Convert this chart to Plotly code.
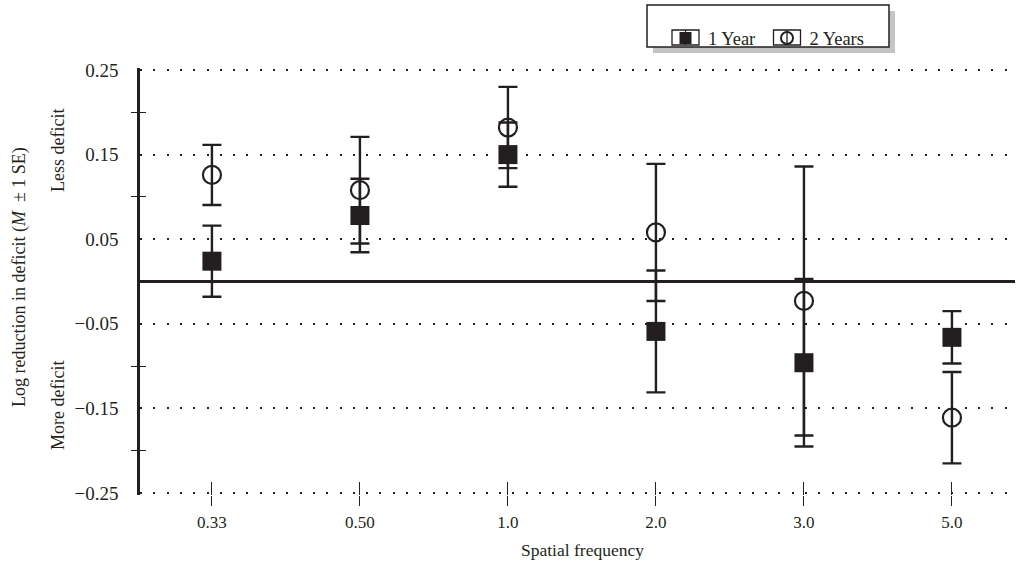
import plotly.graph_objects as go

categories = ["0.33", "0.50", "1.0", "2.0", "3.0", "5.0"]
year1 = [0.024, 0.078, 0.150, -0.059, -0.096, -0.066]
year1_se = [0.042, 0.0435, 0.038, 0.072, 0.099, 0.031]
year2 = [0.126, 0.108, 0.182, 0.058, -0.023, -0.161]
year2_se = [0.0355, 0.063, 0.048, 0.081, 0.159, 0.054]
ytick_vals = [0.25, 0.15, 0.05, -0.05, -0.15, -0.25]
ytick_text = ["0.25", "0.15", "0.05", "\u22120.05", "\u22120.15", "\u22120.25"]
yminor_vals = [0.2, 0.1, -0.1, -0.2]

INK = "#231f20"
FONT = "Liberation Serif, Times New Roman, serif"

W, H = 1018, 563
L, R, T, B = 140, 3, 68, 68
pw, ph = W - L - R, H - T - B
# pixel -> paper helpers (margins are fixed, autoexpand off)
def px_x(p):
    return (p - L) / pw
def px_y(p):
    return (H - B - p) / ph

pad = 2 * 0.5 / (ph - 4)          # 2px of headroom so the edge gridlines are drawn
yr = [-0.25 - pad, 0.25 + pad]
xr = [-0.486, 5.426]

fig = go.Figure()
fig.add_trace(go.Scatter(
    x=categories, y=year1, name="1 Year", mode="markers",
    marker=dict(symbol="square", size=19, color=INK, line=dict(width=0)),
    error_y=dict(type="data", array=year1_se, visible=True, color=INK, thickness=2.4, width=9.5),
))
fig.add_trace(go.Scatter(
    x=categories, y=year2, name="2 Years", mode="markers",
    marker=dict(symbol="circle-open", size=18, color=INK, line=dict(width=2.2, color=INK)),
    error_y=dict(type="data", array=year2_se, visible=True, color=INK, thickness=2.4, width=9.5),
))
# invisible trace hosting the overlay axes (inner halves of the crossing ticks)
fig.add_trace(go.Scatter(x=categories, y=year1, xaxis="x2", yaxis="y2", mode="markers",
                         marker=dict(opacity=0), showlegend=False, hoverinfo="skip"))

fig.update_layout(
    width=W, height=H,
    margin=dict(l=L, r=R, t=T, b=B, autoexpand=False),
    paper_bgcolor="white", plot_bgcolor="white",
    font=dict(family=FONT, size=18, color=INK),
    showlegend=True,
    legend=dict(
        orientation="h", x=px_x(663), y=px_y(19.5),
        xanchor="left", yanchor="top",
        bgcolor="rgba(0,0,0,0)", borderwidth=0,
        font=dict(family=FONT, size=18.5, color=INK),
        itemwidth=35, itemsizing="constant",
        entrywidth=51.5, entrywidthmode="pixels",
    ),
    xaxis=dict(
        type="category", range=xr, showgrid=False, zeroline=False, showline=False,
        ticks="outside", ticklen=10, tickwidth=1.3, tickcolor=INK,
        tickfont=dict(family=FONT, size=17, color=INK), ticklabelstandoff=2,
    ),
    xaxis2=dict(
        type="category", range=xr, overlaying="x", anchor="y2", side="bottom",
        showgrid=False, zeroline=False, showline=False, showticklabels=False,
        ticks="inside", ticklen=13, tickwidth=1.3, tickcolor=INK,
    ),
    yaxis=dict(
        range=yr, tickvals=ytick_vals, ticktext=ytick_text,
        showgrid=True, gridcolor=INK, gridwidth=2, griddash="2px,11.3px",
        zeroline=True, zerolinecolor=INK, zerolinewidth=2.5,
        showline=True, linecolor=INK, linewidth=2.5,
        ticks="", ticklabelstandoff=15,
        minor=dict(tickvals=yminor_vals, ticks="outside", ticklen=6, tickwidth=1.3, tickcolor=INK, showgrid=False),
        tickfont=dict(family=FONT, size=19, color=INK),
    ),
    yaxis2=dict(
        range=yr, overlaying="y", anchor="x2", side="left",
        showgrid=False, zeroline=False, showline=False, showticklabels=False,
        tickvals=yminor_vals, ticks="inside", ticklen=6, tickwidth=1.3, tickcolor=INK,
    ),
)

fig.add_annotation(text="Log reduction in deficit (<i>M</i>  \u00b1 1 SE)", textangle=-90,
                   xref="paper", yref="paper", x=px_x(19), y=px_y(277),
                   showarrow=False, xanchor="center", yanchor="middle",
                   font=dict(family=FONT, size=18, color=INK))
fig.add_annotation(text="Less deficit", textangle=-90,
                   xref="paper", yref="paper", x=px_x(58), y=px_y(151),
                   showarrow=False, xanchor="center", yanchor="middle",
                   font=dict(family=FONT, size=18, color=INK))
fig.add_annotation(text="More deficit", textangle=-90,
                   xref="paper", yref="paper", x=px_x(58), y=px_y(406),
                   showarrow=False, xanchor="center", yanchor="middle",
                   font=dict(family=FONT, size=18, color=INK))
fig.add_annotation(text="Spatial frequency",
                   xref="paper", yref="paper", x=px_x(582), y=px_y(550),
                   showarrow=False, xanchor="center", yanchor="middle",
                   font=dict(family=FONT, size=17.5, color=INK))

# legend frame: drop shadow, white box, and the small boxes round each key
def rect(x0, y0, x1, y1, **kw):
    fig.add_shape(type="rect", xref="paper", yref="paper",
                  x0=px_x(x0), x1=px_x(x1), y0=px_y(y1), y1=px_y(y0), layer="above", **kw)

rect(653, 11, 895, 53, fillcolor="#c4c4c4", line=dict(width=0))
rect(647, 5, 889, 47, fillcolor="white", line=dict(width=1.5, color=INK))
for cx in (685.5, 787):
    rect(cx - 13.5, 30, cx + 13.5, 45, fillcolor="rgba(0,0,0,0)", line=dict(width=1.3, color=INK))
    fig.add_shape(type="line", xref="paper", yref="paper", x0=px_x(cx), x1=px_x(cx),
                  y0=px_y(45), y1=px_y(30), line=dict(width=1.3, color=INK), layer="above")

fig.write_html("out.html", config={"displayModeBar": False},
               post_script="document.body.style.margin='0';")
